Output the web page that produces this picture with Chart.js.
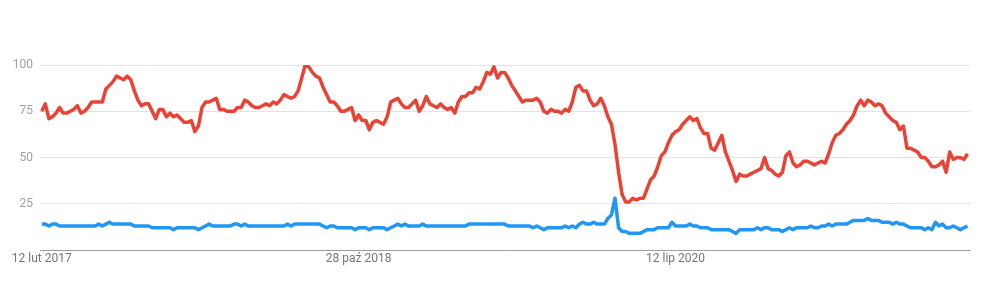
<!DOCTYPE html>
<html>
<head>
<meta charset="utf-8">
<script src="https://cdn.jsdelivr.net/npm/chart.js@4/dist/chart.umd.min.js"></script>
<style>
  body { margin: 0; background: #fff; }
  #wrap { width: 1000px; height: 301px; }
</style>
</head>
<body>
<div id="wrap"><canvas id="trendChart" width="1000" height="301"></canvas></div>
<script>
// weekly values, first week = 12 lut 2017
const redSeries = [
  75,79,71,72,74,77,74,74,75,76,
  78,74,75,77,80,80,80,80,87,89,
  91,94,93,92,94,92,86,81,78,79,
  79,75,71,76,76,72,74,72,73,71,
  69,69,70,64,67,77,80,80,81,82,
  76,76,75,75,75,77,77,81,80,78,
  77,77,78,79,78,80,79,81,84,83,
  82,83,86,93,100,99,96,94,93,88,
  84,80,80,78,75,75,76,77,70,73,
  70,70,65,69,70,69,68,72,80,81,
  82,79,77,77,79,81,75,78,83,79,
  78,77,79,77,76,77,74,80,83,83,
  85,85,88,87,91,96,95,99,93,96,
  96,93,89,86,83,80,81,81,81,82,
  80,75,74,76,75,75,74,76,75,80,
  88,89,86,86,81,78,79,82,78,72,
  68,57,42,30,26,26,28,27,28,28,
  33,38,40,45,51,53,58,62,64,65,
  68,70,72,70,71,66,63,63,55,54,
  58,62,53,48,43,37,41,40,40,41,
  42,43,44,50,44,43,41,40,42,51,
  53,47,45,46,48,48,47,46,47,48,
  47,52,58,62,63,65,68,70,73,78,
  81,78,81,80,78,79,78,74,72,70,
  69,65,67,55,55,54,53,50,50,48,
  45,45,46,48,42,53,49,50,50,49,
  52
];
const blueSeries = [
  14,14,13,14,14,13,13,13,13,13,
  13,13,13,13,13,13,14,13,14,15,
  14,14,14,14,14,14,13,13,13,13,
  13,12,12,12,12,12,12,11,12,12,
  12,12,12,12,11,12,13,14,13,13,
  13,13,13,13,14,14,13,14,13,13,
  13,13,13,13,13,13,13,13,13,14,
  13,14,14,14,14,14,14,14,14,13,
  12,13,13,12,12,12,12,12,11,12,
  12,12,11,12,12,12,12,11,12,13,
  14,13,14,13,13,13,13,14,13,13,
  13,13,13,13,13,13,13,13,13,13,
  14,14,14,14,14,14,14,14,14,14,
  14,13,13,13,13,13,13,13,12,13,
  12,11,12,12,12,12,12,13,12,13,
  12,14,15,14,14,15,14,14,14,17,
  19,28,12,10,10,9,9,9,9,10,
  11,11,11,12,12,12,12,15,13,13,
  13,13,14,13,13,12,12,12,11,11,
  11,11,11,11,10,9,11,11,11,11,
  11,12,11,12,12,11,11,11,10,11,
  12,11,12,12,12,12,13,12,12,13,
  13,14,13,14,14,14,14,15,16,16,
  16,16,17,16,16,16,15,15,15,14,
  15,14,14,13,12,12,12,12,11,12,
  11,15,13,14,12,12,13,12,11,12,
  13
];
const tickWeeks = [0, 89, 178];
const tickLabels = ['12 lut 2017', '28 paź 2018', '12 lip 2020'];
const yTicks = [0, 25, 50, 75, 100];

const toPoints = arr => arr.map((v, i) => ({ x: i, y: v }));

new Chart(document.getElementById('trendChart'), {
    type: 'line',
    data: {
        datasets: [
            { label: 'Seria 1', data: toPoints(redSeries), borderColor: '#ea4335', borderWidth: 3.5, pointRadius: 0, tension: 0, borderJoinStyle: 'round' },
            { label: 'Seria 2', data: toPoints(blueSeries), borderColor: '#2196f3', borderWidth: 3.5, pointRadius: 0, tension: 0, borderJoinStyle: 'round' }
        ]
    },
    options: {
        responsive: false,
        animation: false,
        layout: { padding: { top: 65, right: 30, left: 0, bottom: 0 } },
        plugins: { legend: { display: false }, tooltip: { enabled: false } },
        scales: {
            x: {
                type: 'linear',
                min: -0.5,
                max: 260.7,
                afterBuildTicks: axis => { axis.ticks = tickWeeks.map(v => ({ value: v })); },
                afterFit: s => { s.height = 51; },
                ticks: {
                    autoSkip: false, maxRotation: 0, padding: 2,
                    color: '#757575', font: { family: 'Roboto', size: 12 },
                    callback: v => tickLabels[tickWeeks.indexOf(v)]
                },
                grid: { display: false, drawTicks: false },
                border: { display: true, color: '#9e9e9e', width: 1 }
            },
            y: {
                min: 0,
                max: 100,
                afterBuildTicks: axis => { axis.ticks = yTicks.map(v => ({ value: v })); },
                afterFit: s => { s.width = 40; },
                ticks: {
                    padding: 7, color: '#a0a0a0', font: { family: 'Roboto', size: 12 },
                    callback: v => (v === 0 ? '' : v)
                },
                grid: { color: '#e3e3e3', drawTicks: false },
                border: { display: false }
            }
        }
    }
});
</script>
</body>
</html>
